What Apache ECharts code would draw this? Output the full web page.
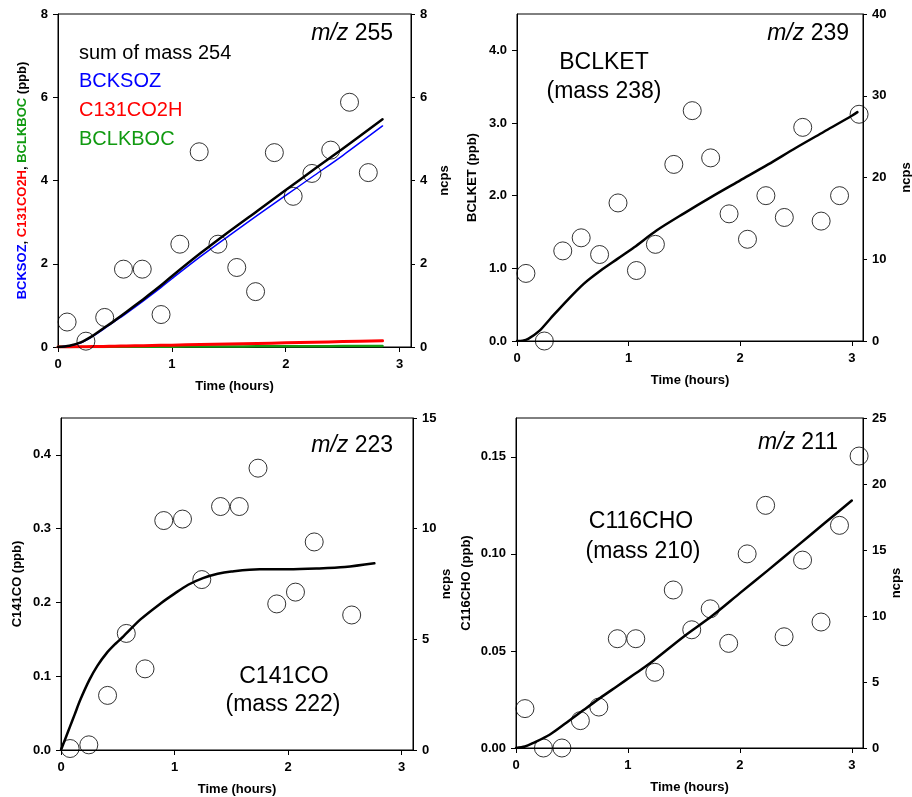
<!DOCTYPE html>
<html>
<head>
<meta charset="utf-8">
<script src="https://cdn.jsdelivr.net/npm/echarts@6/dist/echarts.min.js"></script>
<style>
html, body { margin: 0; padding: 0; background: #fff; }
#chart { width: 912px; height: 797px; }
</style>
</head>
<body>
<div id="chart"></div>
<script>
// observation times (hours), shared by the four panels
var obsTime = [0.08, 0.245, 0.41, 0.575, 0.74, 0.905, 1.07, 1.24, 1.405, 1.57, 1.735, 1.9, 2.065, 2.23, 2.395, 2.56, 2.725, 2.89, 3.065];

// m/z 255 : measured ncps (same scale as ppb axis)
var obs255 = [0.60, 0.14, 0.71, 1.87, 1.87, 0.78, 2.47, 4.69, 2.47, 1.91, 1.33, 4.67, 3.62, 4.17, 4.73, 5.88, 4.19];
// model (ppb)
var model255Time = [0, 0.1, 0.2, 0.3, 0.4, 0.5, 0.6, 0.75, 0.9, 1.0, 1.25, 1.5, 1.75, 2.0, 2.25, 2.5, 2.85];
var sum254   = [0, 0.03, 0.11, 0.26, 0.45, 0.64, 0.84, 1.15, 1.47, 1.70, 2.25, 2.77, 3.27, 3.77, 4.27, 4.76, 5.47];
var bcksoz   = [0, 0.03, 0.10, 0.25, 0.43, 0.62, 0.81, 1.11, 1.42, 1.64, 2.17, 2.67, 3.16, 3.64, 4.12, 4.60, 5.31];
var c131co2h = [0, 0.003, 0.006, 0.01, 0.015, 0.02, 0.025, 0.032, 0.04, 0.045, 0.058, 0.072, 0.085, 0.10, 0.115, 0.13, 0.15];
var bclkboc  = [0, 0, 0.001, 0.002, 0.003, 0.004, 0.005, 0.006, 0.008, 0.009, 0.011, 0.013, 0.016, 0.018, 0.02, 0.022, 0.025];

// m/z 239 : BCLKET
var obs239 = [0.93, 0.0, 1.24, 1.42, 1.19, 1.90, 0.97, 1.33, 2.43, 3.17, 2.52, 1.75, 1.40, 2.00, 1.70, 2.94, 1.65, 2.00, 3.12];
var model239Time = [0, 0.05, 0.1, 0.2, 0.3, 0.45, 0.6, 0.75, 0.9, 1.05, 1.25, 1.5, 1.75, 2.0, 2.25, 2.5, 2.75, 3.0, 3.05];
var bclket = [0, 0.005, 0.03, 0.14, 0.31, 0.56, 0.79, 0.97, 1.13, 1.29, 1.52, 1.76, 1.99, 2.21, 2.43, 2.66, 2.88, 3.10, 3.15];

// m/z 223 : C141CO (no point at 2.395 h)
var obs223 = [0.002, 0.007, 0.074, 0.158, 0.110, 0.311, 0.313, 0.231, 0.330, 0.330, 0.382, 0.198, 0.214, 0.282, null, 0.183];
var model223Time = [0, 0.04, 0.08, 0.12, 0.17, 0.25, 0.32, 0.4, 0.48, 0.55, 0.7, 0.88, 1.0, 1.12, 1.25, 1.38, 1.5, 1.75, 2.0, 2.25, 2.5, 2.76];
var c141co = [0, 0.016, 0.032, 0.048, 0.068, 0.095, 0.114, 0.131, 0.144, 0.154, 0.177, 0.199, 0.212, 0.224, 0.233, 0.239, 0.242, 0.245, 0.245, 0.246, 0.248, 0.253];

// m/z 211 : C116CHO
var obs211 = [0.0203, 0.0, 0.0, 0.0141, 0.0211, 0.0563, 0.0563, 0.039, 0.0814, 0.0609, 0.0717, 0.0539, 0.100, 0.125, 0.0573, 0.0968, 0.0649, 0.1147, 0.1504];
var model211Time = [0, 0.08, 0.15, 0.3, 0.45, 0.6, 0.75, 0.9, 1.05, 1.2, 1.5, 1.75, 2.0, 2.25, 2.5, 2.75, 3.0];
var c116cho = [0, 0.0008, 0.0025, 0.0068, 0.013, 0.0194, 0.0257, 0.0317, 0.0377, 0.0438, 0.0575, 0.068, 0.0798, 0.0915, 0.1035, 0.1155, 0.1275];

var FONT = 'Liberation Sans, Arial, sans-serif';

function pairs(xs, ys) {
    var out = [];
    for (var i = 0; i < ys.length; i++) {
        if (ys[i] != null) out.push([xs[i], ys[i]]);
    }
    return out;
}

var grids = [
    { left: 58,  top: 14,  width: 353, height: 333 },
    { left: 517, top: 14,  width: 346, height: 327 },
    { left: 61,  top: 418, width: 352, height: 332 },
    { left: 516, top: 418, width: 347, height: 330 }
];

var labelStyle = { color: '#000', fontFamily: FONT, fontWeight: 'bold', fontSize: 13 };

function xAxisFor(i) {
    return {
        type: 'value', gridIndex: i, min: 0, max: 3.1,
        name: 'Time (hours)', nameLocation: 'middle', nameGap: 33,
        nameTextStyle: labelStyle,
        axisLine: { show: true, lineStyle: { color: '#000', width: 1 } },
        axisTick: { show: true, length: 5, customValues: [0, 1, 2, 3], lineStyle: { color: '#000' } },
        axisLabel: Object.assign({ margin: 11, customValues: [0, 1, 2, 3] }, labelStyle),
        splitLine: { show: false }
    };
}

function leftAxis(i, max, ticks, digits, name, gap, rich) {
    var ts = { color: '#000', fontFamily: FONT, fontWeight: 'bold', fontSize: 13 };
    if (rich) ts.rich = rich;
    return {
        type: 'value', gridIndex: i, position: 'left', min: 0, max: max,
        name: name, nameLocation: 'middle', nameGap: gap, nameRotate: 90,
        nameTextStyle: ts,
        axisLine: { show: true, onZero: false, lineStyle: { color: '#000', width: 1 } },
        axisTick: { show: true, length: 5, customValues: ticks, lineStyle: { color: '#000' } },
        axisLabel: Object.assign({
            margin: 10, customValues: ticks,
            formatter: function (v) { return v.toFixed(digits); }
        }, labelStyle),
        splitLine: { show: false }
    };
}

function rightAxis(i, max, ticks, gap) {
    return {
        type: 'value', gridIndex: i, position: 'right', min: 0, max: max,
        name: 'ncps', nameLocation: 'middle', nameGap: gap, nameRotate: 90,
        nameTextStyle: labelStyle,
        axisLine: { show: true, onZero: false, lineStyle: { color: '#000', width: 1 } },
        axisTick: { show: true, length: 4, customValues: ticks, lineStyle: { color: '#000' } },
        axisLabel: Object.assign({ margin: 9, customValues: ticks }, labelStyle),
        splitLine: { show: false }
    };
}

function lineSeries(i, xs, ys, color, width) {
    return {
        type: 'line', xAxisIndex: i, yAxisIndex: i * 2,
        data: pairs(xs, ys), showSymbol: false, symbol: 'none',
        smooth: 0.3,
        lineStyle: { color: color, width: width, join: 'round', cap: 'round' }, z: 3, silent: true
    };
}

function scatterSeries(i, xs, ys) {
    return {
        type: 'scatter', xAxisIndex: i, yAxisIndex: i * 2,
        data: pairs(xs, ys), symbol: 'circle', symbolSize: 18,
        itemStyle: { color: 'rgba(0,0,0,0)', borderColor: '#000', borderWidth: 1 },
        z: 4, silent: true
    };
}

var richName = {
    b: { color: '#0000ff', fontFamily: FONT, fontWeight: 'bold', fontSize: 13 },
    r: { color: '#ff0000', fontFamily: FONT, fontWeight: 'bold', fontSize: 13 },
    g: { color: '#119a11', fontFamily: FONT, fontWeight: 'bold', fontSize: 13 }
};

function note(x, y, text, align, size, color) {
    return {
        type: 'text', x: x, y: y, silent: true,
        style: {
            text: text, fill: color || '#000', align: align, verticalAlign: 'middle',
            fontFamily: FONT, fontSize: size,
            rich: { i: { fontStyle: 'italic', fontFamily: FONT, fontSize: size, fill: '#000' } }
        }
    };
}

var option = {
    backgroundColor: '#fff',
    animation: false,
    grid: grids.map(function (g) {
        return Object.assign({
            show: true, borderColor: '#000', borderWidth: 1, backgroundColor: 'transparent',
            containLabel: false, outerBoundsMode: 'none'
        }, g);
    }),
    xAxis: [0, 1, 2, 3].map(xAxisFor),
    yAxis: [
        leftAxis(0, 8, [0, 2, 4, 6, 8], 0, '{b|BCKSOZ}, {r|C131CO2H}, {g|BCLKBOC} (ppb)', 29, richName),
        rightAxis(0, 8, [0, 2, 4, 6, 8], 27),
        leftAxis(1, 4.5, [0, 1, 2, 3, 4], 1, 'BCLKET (ppb)', 38),
        rightAxis(1, 40, [0, 10, 20, 30, 40], 37),
        leftAxis(2, 0.45, [0, 0.1, 0.2, 0.3, 0.4], 1, 'C141CO (ppb)', 37),
        rightAxis(2, 15, [0, 5, 10, 15], 25),
        leftAxis(3, 0.17, [0, 0.05, 0.1, 0.15], 2, 'C116CHO (ppb)', 43),
        rightAxis(3, 25, [0, 5, 10, 15, 20, 25], 26)
    ],
    series: [
        lineSeries(0, model255Time, bclkboc, '#119a11', 2.5),
        lineSeries(0, model255Time, c131co2h, '#ff0000', 3),
        lineSeries(0, model255Time, bcksoz, '#0000ff', 1.5),
        lineSeries(0, model255Time, sum254, '#000', 2.5),
        scatterSeries(0, obsTime, obs255),

        lineSeries(1, model239Time, bclket, '#000', 2.5),
        scatterSeries(1, obsTime, obs239),

        lineSeries(2, model223Time, c141co, '#000', 2.5),
        scatterSeries(2, obsTime, obs223),

        lineSeries(3, model211Time, c116cho, '#000', 2.5),
        scatterSeries(3, obsTime, obs211)
    ],
    graphic: [
        note(393, 34, '{i|m/z} 255', 'right', 23),
        note(79, 53, 'sum of mass 254', 'left', 20),
        note(79, 81, 'BCKSOZ', 'left', 20, '#0000ff'),
        note(79, 110, 'C131CO2H', 'left', 20, '#ff0000'),
        note(79, 139, 'BCLKBOC', 'left', 20, '#119a11'),

        note(849, 34, '{i|m/z} 239', 'right', 23),
        note(604, 63, 'BCLKET', 'center', 23),
        note(604, 92, '(mass 238)', 'center', 23),

        note(393, 446, '{i|m/z} 223', 'right', 23),
        note(284, 677, 'C141CO', 'center', 23),
        note(283, 705, '(mass 222)', 'center', 23),

        note(838, 443, '{i|m/z} 211', 'right', 23),
        note(641, 522, 'C116CHO', 'center', 23),
        note(643, 552, '(mass 210)', 'center', 23)
    ]
};

var chart = echarts.init(document.getElementById('chart'), null, { renderer: 'canvas' });
chart.setOption(option);
</script>
</body>
</html>
